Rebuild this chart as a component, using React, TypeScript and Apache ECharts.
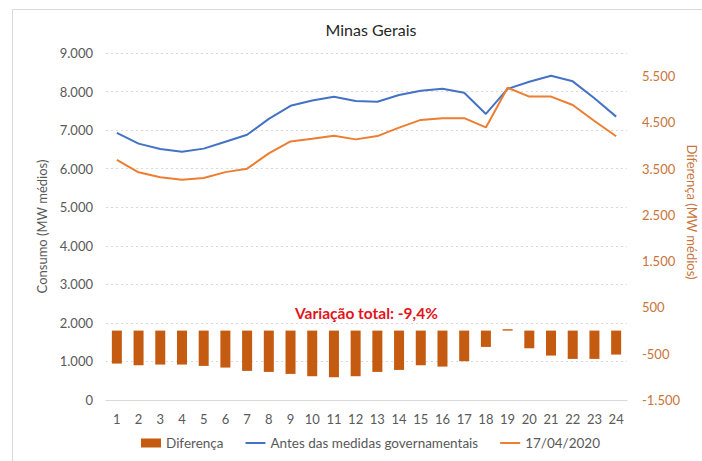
import React, { useEffect, useRef } from "react";
import * as echarts from "echarts";

const hours = ["1","2","3","4","5","6","7","8","9","10","11","12","13","14","15","16","17","18","19","20","21","22","23","24"];
const antes = [6930, 6650, 6510, 6440, 6520, 6700, 6880, 7290, 7630, 7770, 7865, 7755, 7735, 7910, 8020, 8075, 7970, 7420, 8070, 8255, 8410, 8265, 7825, 7350];
const abril = [6225, 5905, 5775, 5710, 5760, 5910, 6000, 6395, 6705, 6775, 6855, 6760, 6845, 7065, 7265, 7305, 7310, 7070, 8100, 7870, 7870, 7650, 7235, 6840];
const diferenca = [-713, -749, -734, -734, -763, -799, -871, -893, -936, -986, -1008, -986, -893, -850, -749, -778, -662, -353, 30, -382, -540, -612, -612, -518];
const leftTicks = { min: 0, max: 9000, interval: 1000 };
const rightTicks = { min: -1500, max: 6000, interval: 1000 };

const fmt = (v: number) => {
  const s = Math.abs(v).toString();
  const withDots = s.replace(/\B(?=(\d{3})+(?!\d))/g, ".");
  return (v < 0 ? "-" : "") + withDots;
};

const FONT = "Lato, 'Open Sans', sans-serif";
const LINE_ICON = "path://M0,0H20V2H0Z";

export default function App() {
  const ref = useRef<HTMLDivElement>(null);
  useEffect(() => {
    if (!ref.current) return;
    const chart = echarts.init(ref.current, undefined, { renderer: "svg" });
    chart.setOption({
      animation: false,
      backgroundColor: "#ffffff",
      textStyle: { fontFamily: FONT },
      title: {
        text: "Minas Gerais",
        left: 366,
        textAlign: "center",
        top: 16,
        textStyle: { fontFamily: FONT, fontSize: 16, fontWeight: "normal", color: "#262626" },
      },
      graphic: [
        {
          type: "rect",
          shape: { x: 12.5, y: 9.5, width: 720, height: 470 },
          style: { fill: "none", stroke: "#d9d9d9", lineWidth: 1 },
          silent: true,
        },
        {
          type: "text",
          left: 295,
          top: 305,
          style: {
            text: "Variação total: -9,4%",
            fontFamily: FONT,
            fontSize: 15.5,
            fontWeight: "bold",
            fill: "#e3141c",
          },
        },
        {
          type: "text",
          x: 692,
          y: 212,
          rotation: -Math.PI / 2,
          style: {
            text: "Diferença (MW médios)",
            fontFamily: FONT,
            fontSize: 13,
            fill: "#c8743a",
            align: "center",
            verticalAlign: "middle",
          },
        },
      ],
      legend: {
        bottom: 6,
        left: 136,
        itemGap: 22,
        itemWidth: 20,
        itemHeight: 9,
        symbolKeepAspect: true,
        textStyle: { fontFamily: FONT, fontSize: 13.5, color: "#595959" },
        data: [
          { name: "Diferença", icon: "rect" },
          { name: "Antes das medidas governamentais", icon: LINE_ICON },
          { name: "17/04/2020", icon: LINE_ICON },
        ],
      },
      grid: { left: 106, right: 75, top: 53, bottom: 61 },
      xAxis: {
        type: "category",
        data: hours,
        axisLine: { show: true, lineStyle: { color: "#d9d9d9" } },
        axisTick: { show: false },
        axisLabel: { fontFamily: FONT, fontSize: 13, color: "#595959", margin: 12 },
      },
      yAxis: [
        {
          type: "value",
          min: leftTicks.min,
          max: leftTicks.max,
          interval: leftTicks.interval,
          name: "Consumo (MW médios)",
          nameLocation: "middle",
          nameGap: 57,
          nameRotate: 90,
          nameTextStyle: { fontFamily: FONT, fontSize: 13, color: "#595959" },
          axisLine: { show: false },
          axisTick: { show: false },
          axisLabel: { fontFamily: FONT, fontSize: 13, color: "#595959", margin: 13, formatter: (v: number) => fmt(v) },
          splitLine: { show: true, lineStyle: { color: "#d9d9d9", type: [2, 3] } },
        },
        {
          type: "value",
          min: rightTicks.min,
          max: rightTicks.max,
          interval: rightTicks.interval,
          axisLine: { show: false },
          axisTick: { show: false },
          axisLabel: {
            fontFamily: FONT,
            fontSize: 13,
            color: "#c8743a",
            margin: 15,
            showMaxLabel: false,
            formatter: (v: number) => (v === rightTicks.max ? "" : fmt(v)),
          },
          splitLine: { show: false },
        },
      ],
      series: [
        {
          name: "Diferença",
          type: "bar",
          yAxisIndex: 1,
          data: diferenca,
          barWidth: 10,
          itemStyle: { color: "#c55a11" },
        },
        {
          name: "Antes das medidas governamentais",
          type: "line",
          yAxisIndex: 0,
          data: antes,
          symbol: "none",
          lineStyle: { color: "#4472c4", width: 2 },
          itemStyle: { color: "#4472c4" },
        },
        {
          name: "17/04/2020",
          type: "line",
          yAxisIndex: 0,
          data: abril,
          symbol: "none",
          lineStyle: { color: "#ed7d31", width: 2 },
          itemStyle: { color: "#ed7d31" },
        },
      ],
    });
    return () => chart.dispose();
  }, []);
  return <div ref={ref} style={{ width: 702, height: 461, position: "absolute", left: 0, top: 0 }} />;
}
